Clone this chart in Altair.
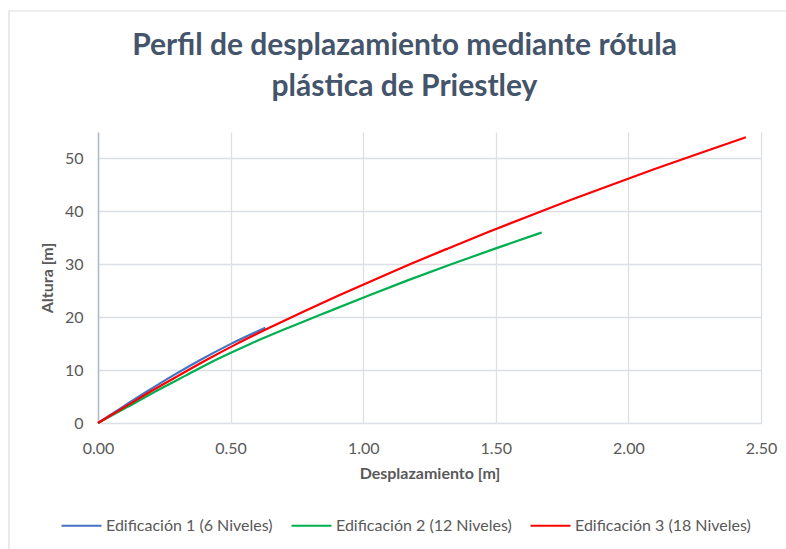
import altair as alt
import pandas as pd

# Series: lateral displacement profile (m) at each floor level (m)
series_names = [
    "Edificación 1 (6 Niveles)",
    "Edificación 2 (12 Niveles)",
    "Edificación 3 (18 Niveles)",
]
series_colors = ["#4472C4", "#00B050", "#FF0000"]

heights_1 = [0, 3, 6, 9, 12, 15, 18]
disp_1 = [0.0, 0.092, 0.186, 0.284, 0.389, 0.503, 0.631]

heights_2 = [0, 3, 6, 9, 12, 15, 18, 21, 24, 27, 30, 33, 36]
disp_2 = [0.0, 0.110, 0.218, 0.332, 0.447, 0.576, 0.718, 0.866, 1.016, 1.170, 1.332, 1.500, 1.673]

heights_3 = [0, 3, 6, 9, 12, 15, 18, 21, 24, 27, 30, 33, 36, 39, 42, 45, 48, 51, 54]
disp_3 = [0.0, 0.100, 0.200, 0.305, 0.412, 0.525, 0.646, 0.772, 0.903, 1.038, 1.176, 1.320,
          1.467, 1.619, 1.774, 1.935, 2.099, 2.269, 2.443]

x_ticks = [0, 0.5, 1.0, 1.5, 2.0, 2.5]
y_ticks = [0, 10, 20, 30, 40, 50]

rows = []
for name, hs, ds in zip(series_names, [heights_1, heights_2, heights_3], [disp_1, disp_2, disp_3]):
    for h, d in zip(hs, ds):
        rows.append({"serie": name, "altura": h, "desplazamiento": d})
df = pd.DataFrame(rows)

FONT = "Lato"
TEXT_GREY = "#595959"

lines = alt.Chart(df).mark_line(strokeWidth=2.2, interpolate="monotone").encode(
    x=alt.X(
        "desplazamiento:Q",
        scale=alt.Scale(domain=[0, 2.5], nice=False),
        axis=alt.Axis(
            values=x_ticks, format=".2f", title="Desplazamiento [m]",
            domain=False, ticks=False, labelFlush=False,
            labelPadding=17, titlePadding=9,
        ),
    ),
    y=alt.Y(
        "altura:Q",
        scale=alt.Scale(domain=[0, 55], nice=False),
        axis=alt.Axis(
            values=y_ticks, title="Altura [m]",
            domain=True, domainColor="#AEB9CC", domainWidth=1.5,
            ticks=False, labelFlush=False, labelPadding=15,
            titleX=-51, titleBaseline="middle",
        ),
    ),
    color=alt.Color(
        "serie:N",
        scale=alt.Scale(domain=series_names, range=series_colors),
        legend=alt.Legend(
            title=None, orient="none", direction="horizontal",
            legendX=-38, legendY=372,
            symbolType="stroke", symbolSize=1600, symbolStrokeWidth=2.2,
            labelFont=FONT, labelFontSize=16, labelColor=TEXT_GREY,
            labelLimit=400, labelOffset=3, columnPadding=14,
        ),
    ),
    order="altura:Q",
)

# light outer frame of the chart area
frame = alt.Chart(alt.Data(values=[{"k": 1}])).mark_rect(
    fill="transparent", stroke="#D9DDE3", strokeWidth=1.2
).encode(
    x=alt.value(-89), x2=alt.value(720),
    y=alt.value(-121), y2=alt.value(440),
)

# the title sits above the frame's top edge, so a negative offset brings it back inside
chart = alt.layer(frame, lines).properties(
    width=663,
    height=291,
    autosize=alt.AutoSizeParams(type="none"),
    padding={"left": 98, "top": 132, "right": 25, "bottom": 126},
    background="white",
    title=alt.TitleParams(
        text=["Perfil de desplazamiento mediante rótula", "plástica de Priestley"],
        font=FONT, fontSize=30, fontWeight="bold", color="#44546A",
        anchor="middle", frame="group", dx=-25, lineHeight=41, offset=-92,
    ),
).configure_view(
    stroke=None
).configure_axis(
    labelFont=FONT, labelFontSize=16, labelColor=TEXT_GREY,
    titleFont=FONT, titleFontSize=16, titleFontWeight="bold", titleColor=TEXT_GREY,
    gridColor="#DCE0E6", gridWidth=1.3,
)

chart.save("out.html", embed_options={"renderer": "svg", "actions": False})
